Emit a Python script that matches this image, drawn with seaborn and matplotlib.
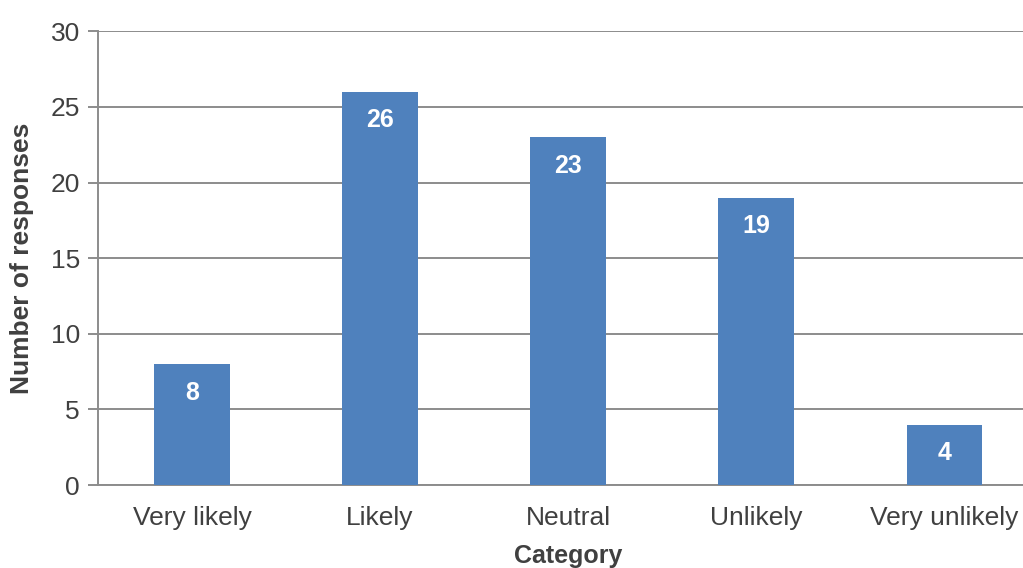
import matplotlib
matplotlib.use("Agg")
import matplotlib.pyplot as plt
import seaborn as sns
import pandas as pd

categories = ["Very likely", "Likely", "Neutral", "Unlikely", "Very unlikely"]
responses = [8, 26, 23, 19, 4]
y_ticks = [0, 5, 10, 15, 20, 25, 30]

sns.set_theme(style="white")
plt.rcParams["font.family"] = ["Liberation Sans", "DejaVu Sans"]

df = pd.DataFrame({"Category": categories, "Responses": responses})

fig = plt.figure(figsize=(10.23, 5.68), dpi=100)
# the plot area runs slightly past the right edge of the canvas
ax = fig.add_axes([0.0958, 0.146, 0.919, 0.799])

grid_col = "#8c8c8c"
bar_col = "#4F81BD"
text_col = "#404040"

sns.barplot(data=df, x="Category", y="Responses", color=bar_col,
            width=0.4, saturation=1, linewidth=0, edgecolor="none",
            ax=ax, zorder=3)

ax.set_ylim(0, 30)
ax.set_xlim(-0.5, len(categories) - 0.5)
ax.set_yticks(y_ticks)
ax.yaxis.grid(True, color=grid_col, linewidth=1.4, zorder=0)
ax.set_axisbelow(True)

for side in ["top", "right"]:
    ax.spines[side].set_visible(False)
for side in ["left", "bottom"]:
    ax.spines[side].set_color(grid_col)
    ax.spines[side].set_linewidth(1.4)

# Category boundaries carry the x tick marks; labels sit under bar centres
ax.set_xticks([i - 0.5 for i in range(len(categories) + 1)], minor=True)
ax.tick_params(axis="x", which="minor", length=7, width=1.4, color=grid_col, direction="out")
ax.tick_params(axis="x", which="major", length=0, pad=15, labelsize=19, labelcolor=text_col)
ax.tick_params(axis="y", length=7, width=1.4, color=grid_col, direction="out",
               left=True, labelsize=19, labelcolor=text_col, pad=6)

ax.set_xlabel("Category", fontsize=18, fontweight="bold", color=text_col, labelpad=10)
ax.set_ylabel("Number of responses", fontsize=19, fontweight="bold", color=text_col, labelpad=12)

for i, v in enumerate(responses):
    ax.annotate(str(v), xy=(i, v), xytext=(0, -12), textcoords="offset points",
                ha="center", va="top", color="white", fontsize=18, fontweight="bold", zorder=4)

fig.savefig("out.png", dpi=100)
